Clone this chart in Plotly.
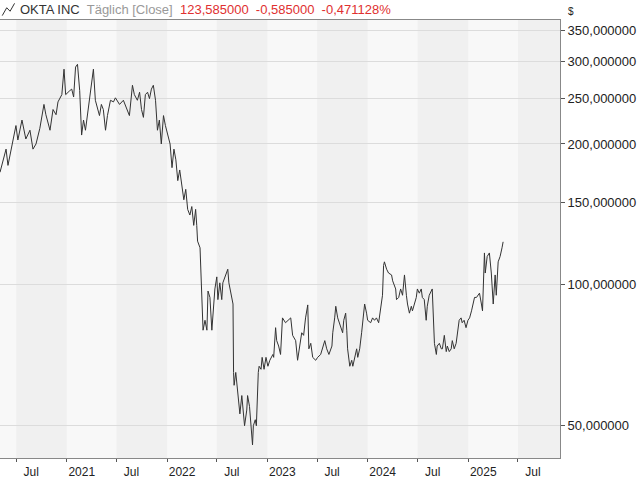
import plotly.graph_objects as go

dates = [
    "2020-05-03", "2020-05-14", "2020-05-25", "2020-06-01", "2020-06-16", "2020-06-30",
    "2020-07-07", "2020-07-22", "2020-08-05", "2020-08-20", "2020-08-31", "2020-09-11",
    "2020-09-25", "2020-10-10", "2020-10-17", "2020-11-01", "2020-11-12", "2020-11-23",
    "2020-11-30", "2020-12-14", "2020-12-22", "2020-12-28",
    "2021-01-12", "2021-01-19", "2021-01-26", "2021-02-02", "2021-02-09", "2021-02-17",
    "2021-02-24", "2021-03-03", "2021-03-10", "2021-03-17", "2021-03-28", "2021-04-08",
    "2021-04-15", "2021-04-30", "2021-05-07", "2021-05-14", "2021-05-22", "2021-05-29",
    "2021-06-09", "2021-06-20", "2021-06-27", "2021-07-12", "2021-07-26", "2021-08-10",
    "2021-08-17", "2021-08-28", "2021-09-04", "2021-09-15", "2021-09-23", "2021-09-30",
    "2021-10-07", "2021-10-14", "2021-10-22", "2021-10-29", "2021-11-05", "2021-11-12",
    "2021-11-20", "2021-11-27", "2021-12-04", "2021-12-11", "2021-12-19", "2021-12-26",
    "2022-01-05", "2022-01-12", "2022-01-19", "2022-01-26", "2022-02-02", "2022-02-09",
    "2022-02-16", "2022-02-24", "2022-03-03", "2022-03-10", "2022-03-17", "2022-03-25",
    "2022-04-01", "2022-04-08", "2022-04-15", "2022-04-19", "2022-04-22", "2022-05-01",
    "2022-05-05", "2022-05-08", "2022-05-12", "2022-05-19", "2022-05-26", "2022-05-30",
    "2022-06-06", "2022-06-13", "2022-06-17", "2022-06-24", "2022-07-01", "2022-07-05",
    "2022-07-12", "2022-07-19", "2022-07-23", "2022-08-03", "2022-08-10", "2022-08-14",
    "2022-08-25", "2022-08-29", "2022-08-31", "2022-09-02", "2022-09-08", "2022-09-15",
    "2022-09-23", "2022-09-30", "2022-10-03", "2022-10-10", "2022-10-18", "2022-10-21",
    "2022-10-28", "2022-11-04", "2022-11-08", "2022-11-11", "2022-11-18", "2022-11-22",
    "2022-11-25", "2022-11-29", "2022-12-02", "2022-12-09", "2022-12-13", "2022-12-20",
    "2022-12-27",
    "2023-01-03", "2023-01-10", "2023-01-21", "2023-01-24", "2023-01-31", "2023-02-04",
    "2023-02-11", "2023-02-18", "2023-02-25", "2023-03-08", "2023-03-16", "2023-03-27",
    "2023-04-03", "2023-04-14", "2023-04-21", "2023-04-29", "2023-05-06", "2023-05-13",
    "2023-05-20", "2023-05-28", "2023-06-01", "2023-06-08", "2023-06-15", "2023-06-26",
    "2023-07-03", "2023-07-14", "2023-07-22", "2023-07-29", "2023-08-05", "2023-08-13",
    "2023-08-24", "2023-08-27", "2023-09-03", "2023-09-07", "2023-09-14", "2023-09-25",
    "2023-10-02", "2023-10-06", "2023-10-13", "2023-10-17", "2023-10-20", "2023-10-28",
    "2023-11-04", "2023-11-08", "2023-11-15", "2023-11-22", "2023-11-26", "2023-12-03",
    "2023-12-10", "2023-12-14", "2023-12-21", "2023-12-28",
    "2024-01-01", "2024-01-12", "2024-01-19", "2024-01-26", "2024-02-02", "2024-02-10",
    "2024-02-17", "2024-02-24", "2024-02-28", "2024-03-02", "2024-03-10", "2024-03-17",
    "2024-03-28", "2024-04-01", "2024-04-12", "2024-04-15", "2024-04-23", "2024-04-30",
    "2024-05-07", "2024-05-14", "2024-05-21", "2024-05-25", "2024-06-01", "2024-06-08",
    "2024-06-12", "2024-06-19", "2024-06-26", "2024-06-30", "2024-07-07", "2024-07-14",
    "2024-07-18", "2024-07-25", "2024-08-01", "2024-08-05", "2024-08-12", "2024-08-23",
    "2024-08-27", "2024-08-31", "2024-09-07", "2024-09-10", "2024-09-18", "2024-09-25",
    "2024-09-29", "2024-10-06", "2024-10-13", "2024-10-17", "2024-10-24", "2024-10-31",
    "2024-11-04", "2024-11-11", "2024-11-18", "2024-11-22", "2024-11-29", "2024-12-06",
    "2024-12-10", "2024-12-17", "2024-12-24", "2024-12-31",
    "2025-01-06", "2025-01-13", "2025-01-17", "2025-01-24", "2025-01-31", "2025-02-04",
    "2025-02-11", "2025-02-18", "2025-02-22", "2025-03-01", "2025-03-04", "2025-03-11",
    "2025-03-19", "2025-03-26", "2025-03-29", "2025-04-02", "2025-04-09", "2025-04-13",
    "2025-04-20", "2025-04-27", "2025-05-04", "2025-05-08",
]
close = [
    174, 185, 195, 180, 200, 219, 204, 225, 205, 214, 195, 200,
    216, 243, 231, 214, 237, 231, 246, 255, 289, 255,
    260, 262, 252, 292, 296, 260, 209, 225, 214, 230, 255, 289,
    248, 230, 243, 237, 214, 230, 248, 246, 251, 243, 248, 237,
    230, 267, 255, 248, 258, 237, 228, 255, 258, 250, 262, 267,
    248, 214, 225, 200, 230, 219,
    209, 200, 178, 195, 185, 167, 176, 164, 152, 160, 145, 141,
    147, 134, 145, 134, 124, 120, 104, 88, 80, 84, 80, 97,
    94, 80, 85, 98, 104, 93, 101, 93, 101, 106, 108, 101,
    93, 91, 65, 61, 65, 59, 53, 58, 55, 50, 54, 58,
    55, 48.4, 45.5, 50, 51.5, 50, 59, 65, 67, 66, 70, 66,
    70,
    67, 69, 71, 70, 81, 76, 74, 71, 85, 83, 84, 85,
    78, 76, 69, 75, 79, 78, 85, 90.6, 73, 75, 70, 69,
    70, 71, 74, 76, 73, 71, 74, 79, 85, 90, 85, 81,
    79, 84, 87, 80, 73, 67, 69, 67, 70, 73, 70, 73,
    79, 84, 91, 87,
    84, 83, 85, 84, 85, 83, 88, 95, 110, 112, 108, 106,
    105, 102, 98, 93, 94, 98, 95, 105, 95, 91, 87, 90,
    88, 91, 94, 98, 96, 98, 94, 93, 84, 90, 95, 98,
    85, 75, 71, 74, 75, 73, 73, 78, 72, 74, 72, 73,
    76, 73, 75, 79, 84, 85, 83, 84, 81, 84,
    85, 88, 90, 94, 94, 95, 96, 91, 88, 117, 106, 115,
    117, 106, 98, 91, 105, 95, 112, 115, 120, 123.585,
]

band_starts = ["2020-07-01", "2021-07-01", "2022-07-01", "2023-07-01", "2024-07-01", "2025-07-01"]
band_ends = ["2021-01-01", "2022-01-01", "2023-01-01", "2024-01-01", "2025-01-01", "2026-01-01"]

y_ticks = [50, 100, 150, 200, 250, 300, 350]
y_labels = ["50,000000", "100,000000", "150,000000", "200,000000",
            "250,000000", "300,000000", "350,000000"]
x_ticks = ["2020-07-01", "2021-01-01", "2021-07-01", "2022-01-01", "2022-07-01", "2023-01-01",
           "2023-07-01", "2024-01-01", "2024-07-01", "2025-01-01", "2025-07-01"]
x_labels = ["Jul", "2021", "Jul", "2022", "Jul", "2023", "Jul", "2024", "Jul", "2025", "Jul"]

FONT = "Liberation Sans"

fig = go.Figure()

# darker half-year bands
for s, e in zip(band_starts, band_ends):
    fig.add_vrect(x0=s, x1=e, fillcolor="#f0f0f0", line_width=0, layer="below")

fig.add_trace(go.Scatter(
    x=dates, y=close, mode="lines",
    line=dict(color="#333333", width=1),
    showlegend=False,
))

fig.update_layout(
    width=640, height=480,
    margin=dict(l=0, r=80, t=20, b=22, autoexpand=False),
    paper_bgcolor="white",
    plot_bgcolor="#f8f8f8",
    font=dict(family=FONT, size=13, color="#222222"),
    xaxis=dict(
        range=["2020-05-03", "2025-12-01"],
        tickvals=x_ticks, ticktext=x_labels,
        ticks="outside", ticklen=3, tickcolor="#555555",
        tickfont=dict(size=12),
        ticklabelshift=15, ticklabelstandoff=0,
        automargin=False,
        showgrid=False, showline=True, linecolor="#888888", mirror=True,
        zeroline=False,
    ),
    yaxis=dict(
        type="log", side="right",
        range=[1.630, 2.566],
        tickvals=y_ticks, ticktext=y_labels,
        ticks="outside", ticklen=4, tickcolor="#555555",
        automargin=False,
        showgrid=True, gridcolor="#dcdcdc",
        showline=True, linecolor="#888888", mirror=True,
        zeroline=False,
    ),
)

fig.add_annotation(
    xref="paper", yref="paper", x=0.032, y=1.0, yshift=11,
    xanchor="left", yanchor="middle", showarrow=False,
    text=("<span style='color:#333333'>OKTA INC</span>  "
          "<span style='color:#999999'>Täglich [Close]</span>  "
          "<span style='color:#e03030'>123,585000  -0,585000  -0,471128%</span>"),
    font=dict(family=FONT, size=13),
)
# small line icon before the title
fig.add_shape(type="path", xref="paper", yref="paper",
              path="M 0.004 1.01 L 0.012 1.028 L 0.018 1.02 L 0.026 1.038",
              line=dict(color="#333333", width=1))
fig.add_annotation(
    xref="paper", yref="paper", x=1.0, y=1.0, xshift=6, yshift=9,
    xanchor="left", yanchor="middle", showarrow=False,
    text="$", font=dict(family=FONT, size=10),
)

fig.write_html("out.html", config={"displayModeBar": False},
               post_script="document.body.style.margin='0';")
